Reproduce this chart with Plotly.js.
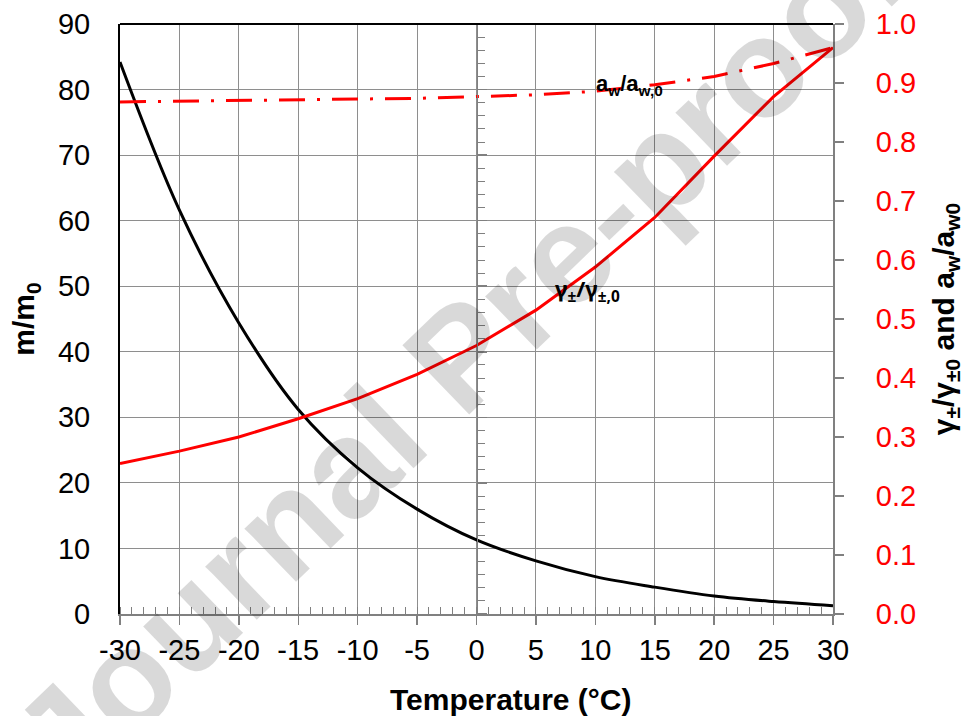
<!DOCTYPE html>
<html>
<head>
<meta charset="utf-8">
<script src="https://cdn.plot.ly/plotly-3.0.1.min.js"></script>
<style>
  html, body { margin: 0; padding: 0; background: #ffffff; }
  #chart { width: 965px; height: 716px; }
</style>
</head>
<body>
<div id="chart"></div>
<script>
// Temperature (°C)
var temperature = [-30, -25, -20, -15, -10, -5, 0, 5, 10, 15, 20, 25, 30];
// m/m0 (left axis)
var massRatio = [84.2, 61.6, 44.4, 31.2, 22.3, 16.0, 11.3, 8.1, 5.7, 4.1, 2.75, 1.9, 1.27];
// gamma±/gamma±,0 (right axis)
var gammaRatio = [0.255, 0.276, 0.300, 0.331, 0.365, 0.406, 0.455, 0.515, 0.588, 0.672, 0.776, 0.877, 0.960];
// aw/aw,0 (right axis)
var awRatio = [0.868, 0.869, 0.870, 0.871, 0.872, 0.874, 0.877, 0.880, 0.886, 0.897, 0.911, 0.933, 0.960];

var xTickVals = [-30, -25, -20, -15, -10, -5, 0, 5, 10, 15, 20, 25, 30];
var xTickText = ['-30', '-25', '-20', '-15', '-10', '-5', '0', '5', '10', '15', '20', '25', '30'];

var FONT = 'Liberation Sans, Arial, sans-serif';
var GRID = '#8e8e8e';
var AXIS = '#808080';

var traces = [
  {
    x: temperature, y: massRatio, type: 'scatter', mode: 'lines',
    name: 'm/m0', yaxis: 'y',
    line: { color: '#000000', width: 3, shape: 'spline', smoothing: 1 },
    hoverinfo: 'x+y'
  },
  {
    x: temperature, y: gammaRatio, type: 'scatter', mode: 'lines',
    name: 'γ±/γ±,0', yaxis: 'y2',
    line: { color: '#ff0000', width: 3 },
    hoverinfo: 'x+y'
  },
  {
    x: temperature, y: awRatio, type: 'scatter', mode: 'lines',
    name: 'aw/aw,0', yaxis: 'y2',
    line: { color: '#ff0000', width: 3, dash: '26px,12px,3px,12px' },
    hoverinfo: 'x+y'
  },
  {
    x: [], y: [], type: 'scatter', mode: 'lines', yaxis: 'y3',
    hoverinfo: 'skip', showlegend: false
  }
];

var layout = {
  width: 965,
  height: 716,
  margin: { l: 120, r: 132, t: 24, b: 102, pad: 0 },
  paper_bgcolor: '#ffffff',
  plot_bgcolor: '#ffffff',
  showlegend: false,
  font: { family: FONT, color: '#000000' },
  xaxis: {
    range: [-30, 30],
    tickmode: 'array',
    tickvals: xTickVals,
    ticktext: xTickText,
    ticks: 'outside',
    ticklen: 9,
    tickwidth: 1.5,
    tickcolor: AXIS,
    showline: true,
    linecolor: AXIS,
    linewidth: 2,
    showgrid: true,
    gridcolor: GRID,
    gridwidth: 1,
    zeroline: false,
    ticklabelstandoff: 0,
    tickfont: { family: FONT, size: 29, color: '#000000' },
    minor: { tickmode: 'linear', tick0: 0, dtick: 1, ticks: 'inside', ticklen: 7, tickwidth: 1, tickcolor: AXIS, showgrid: false }
  },
  yaxis: {
    range: [0, 90],
    tick0: 0,
    dtick: 10,
    ticks: '',
    showline: true,
    linecolor: '#000000',
    linewidth: 2,
    showgrid: true,
    gridcolor: GRID,
    gridwidth: 1,
    zeroline: false,
    ticklabelstandoff: 22,
    tickfont: { family: FONT, size: 29, color: '#000000' },
    title: { text: '<b>m/m<sub>0</sub></b>', font: { family: FONT, size: 30, color: '#000000' }, standoff: 14 }
  },
  yaxis2: {
    overlaying: 'y',
    side: 'right',
    range: [0, 1],
    tick0: 0,
    dtick: 0.1,
    tickformat: '.1f',
    ticks: 'outside',
    ticklen: 9,
    tickwidth: 1.5,
    tickcolor: AXIS,
    showline: true,
    linecolor: AXIS,
    linewidth: 2,
    showgrid: false,
    zeroline: false,
    ticklabelstandoff: 26,
    tickfont: { family: FONT, size: 29, color: '#ff0000' },
    title: { text: '<b>γ<sub>±</sub>/γ<sub>±0</sub> and a<sub>w</sub>/a<sub>w0</sub></b>', font: { family: FONT, size: 30, color: '#000000' }, standoff: 18 }
  },
  yaxis3: {
    overlaying: 'y',
    anchor: 'free',
    position: 0.5,
    side: 'right',
    range: [0, 90],
    tick0: 0,
    dtick: 10,
    ticks: 'outside',
    ticklen: 9,
    tickwidth: 1.5,
    tickcolor: AXIS,
    showline: true,
    linecolor: AXIS,
    linewidth: 1.5,
    showgrid: false,
    zeroline: false,
    showticklabels: false,
    minor: { tickmode: 'linear', tick0: 0, dtick: 2, ticks: 'outside', ticklen: 7, tickwidth: 1, tickcolor: AXIS, showgrid: false }
  },
  shapes: [
    { type: 'line', xref: 'paper', yref: 'paper', x0: 0, x1: 1, y0: 1, y1: 1, line: { color: '#000000', width: 2 } }
  ],
  annotations: [
    {
      text: '<b>Temperature (°C)</b>',
      x: 0.548, y: -0.113, xref: 'paper', yref: 'paper',
      showarrow: false, xanchor: 'center', yanchor: 'top',
      font: { family: FONT, size: 30, color: '#000000' }
    },
    {
      text: '<b>γ<sub>±</sub>/γ<sub>±,0</sub></b>',
      x: 9.3, y: 0.549, xref: 'x', yref: 'y2',
      showarrow: false, xanchor: 'center', yanchor: 'middle',
      font: { family: 'Noto Sans, sans-serif', size: 22, color: '#000000' }
    },
    {
      text: '<b>a<sub>w</sub>/a<sub>w,0</sub></b>',
      x: 12.85, y: 0.897, xref: 'x', yref: 'y2',
      showarrow: false, xanchor: 'center', yanchor: 'middle',
      font: { family: FONT, size: 22, color: '#000000' }
    },
    {
      text: '<b>Journal Pre-proof</b>',
      x: 0.476, y: 0.437, xref: 'paper', yref: 'paper',
      showarrow: false, xanchor: 'center', yanchor: 'middle',
      textangle: -44,
      font: { family: FONT, size: 140, color: 'rgba(0,0,0,0.15)' }
    }
  ]
};

Plotly.newPlot('chart', traces, layout, { displayModeBar: false, staticPlot: true });
</script>
</body>
</html>
